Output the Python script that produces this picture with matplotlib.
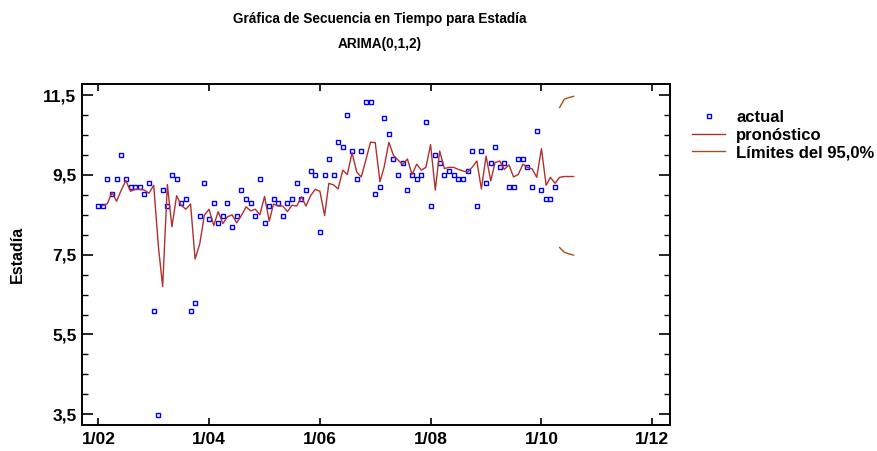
import matplotlib
matplotlib.use("Agg")
import matplotlib.pyplot as plt
import matplotlib.dates as mdates
from matplotlib.ticker import MultipleLocator, FuncFormatter
import numpy as np
import pandas as pd

plt.rcParams['font.family'] = ['Liberation Sans', 'DejaVu Sans']
plt.rcParams['font.weight'] = 'bold'

# datos mensuales observados (ene 2002 - abr 2010)
actual = [
    8.71, 8.71, 9.39, 9.02, 9.39, 10.01, 9.39, 9.20, 9.20, 9.20,
    9.02, 9.30, 6.09, 3.48, 9.11, 8.71, 9.51, 9.39, 8.79, 8.89,
    6.09, 6.28, 8.48, 9.29, 8.39, 8.79, 8.29, 8.48, 8.79, 8.20,
    8.48, 9.11, 8.89, 8.79, 8.48, 9.39, 8.29, 8.71, 8.89, 8.79,
    8.48, 8.79, 8.89, 9.29, 8.89, 9.11, 9.61, 9.51, 8.08, 9.51,
    9.91, 9.51, 10.32, 10.20, 11.00, 10.10, 9.39, 10.10, 11.32, 11.32,
    9.01, 9.20, 10.92, 10.52, 9.91, 9.51, 9.80, 9.11, 9.51, 9.39,
    9.51, 10.82, 8.71, 10.01, 9.80, 9.51, 9.61, 9.51, 9.39, 9.39,
    9.61, 10.10, 8.71, 10.10, 9.29, 9.80, 10.20, 9.70, 9.80, 9.20,
    9.20, 9.91, 9.91, 9.70, 9.20, 10.60, 9.11, 8.89, 8.89, 9.20,
]

# pronóstico a un paso (feb 2002 - abr 2010) + pronóstico fuera de muestra
pronostico = [
    8.73, 8.78, 9.06, 8.84, 9.12, 9.36, 9.09, 9.14, 9.14, 9.12,
    9.04, 9.24, 7.70, 6.70, 9.26, 8.20, 8.98, 8.74, 8.64, 8.77,
    7.39, 7.78, 8.49, 8.64, 8.23, 8.58, 8.28, 8.45, 8.50, 8.30,
    8.48, 8.70, 8.60, 8.64, 8.50, 8.96, 8.34, 8.77, 8.72, 8.72,
    8.58, 8.74, 8.72, 8.95, 8.72, 8.98, 9.14, 9.09, 8.48, 9.29,
    9.25, 9.15, 9.62, 9.51, 10.06, 9.57, 9.45, 9.89, 10.32, 10.31,
    9.33, 9.70, 10.32, 9.99, 9.87, 9.76, 9.90, 9.51, 9.77, 9.62,
    9.69, 10.26, 9.12, 10.10, 9.66, 9.69, 9.69, 9.64, 9.60, 9.57,
    9.69, 9.85, 9.15, 9.97, 9.35, 9.81, 9.85, 9.64, 9.75, 9.45,
    9.51, 9.77, 9.69, 9.65, 9.44, 10.16, 9.24, 9.44, 9.29,
    9.44, 9.46, 9.46, 9.46,
]

lim_sup = [11.19, 11.40, 11.44, 11.47]
lim_inf = [7.68, 7.56, 7.52, 7.49]

fechas = pd.date_range("2002-01-01", periods=len(actual), freq="MS")
fechas_pron = pd.date_range("2002-02-01", periods=len(pronostico), freq="MS")
fechas_lim = fechas_pron[-len(lim_sup):]

fig = plt.figure(figsize=(8.77, 4.51), dpi=100)
ax = fig.add_axes([82 / 877, 1 - 425 / 451, 588 / 877, 341 / 451])

ax.plot(fechas, actual, linestyle="none", marker="s", markersize=3.4,
        markerfacecolor="none", markeredgecolor="#0000ff", markeredgewidth=1.0,
        label="actual")
ax.plot(fechas_pron, pronostico, color="#b03030", linewidth=1.0, label="pronóstico")
ax.plot(fechas_lim, lim_sup, color="#a0501e", linewidth=1.0, label="Límites del 95,0%")
ax.plot(fechas_lim, lim_inf, color="#a0501e", linewidth=1.0)

ax.set_xlim(pd.Timestamp("2001-09-15"), pd.Timestamp("2012-04-28"))
ax.set_ylim(3.23, 11.78)

ax.xaxis.set_major_locator(mdates.YearLocator(2, month=1, day=1))
ax.xaxis.set_major_formatter(FuncFormatter(
    lambda v, p: f"{mdates.num2date(v).month}/{mdates.num2date(v).year % 100:02d}"))
ax.yaxis.set_minor_locator(MultipleLocator(0.5))
ax.set_yticks(np.arange(3.5, 11.6, 2.0))
ax.yaxis.set_major_formatter(FuncFormatter(lambda v, p: f"{v:.1f}".replace(".", ",")))

ax.tick_params(axis="y", which="major", direction="in", length=8, width=1.2,
               left=True, right=True, labelsize=12.5, pad=4)
ax.tick_params(axis="y", which="minor", direction="in", length=4.5, width=1.0,
               left=True, right=True)
ax.tick_params(axis="x", which="major", direction="in", length=5, width=1.2,
               top=True, bottom=True, labelsize=12.5, pad=5)
for s in ax.spines.values():
    s.set_linewidth(1.4)

ax.set_ylabel("Estadía", fontsize=11.5, fontweight="bold")
ax.yaxis.set_label_coords(-0.097, 0.5)

fig.text(379.5 / 877, 1 - 19 / 451, "Gráfica de Secuencia en Tiempo para Estadía",
         ha="center", va="center", fontsize=9.8, fontweight="bold")
fig.text(379.5 / 877, 1 - 44 / 451, "ARIMA(0,1,2)",
         ha="center", va="center", fontsize=9.8, fontweight="bold")

ax.legend(loc="upper left", bbox_to_anchor=(692 / 877, 1 - 110 / 451),
          bbox_transform=fig.transFigure, frameon=False, fontsize=12,
          handlelength=2.0, handletextpad=0.65, labelspacing=0.16, borderpad=0,
          borderaxespad=0, markerscale=1.0)

fig.savefig("out.png", dpi=100)
